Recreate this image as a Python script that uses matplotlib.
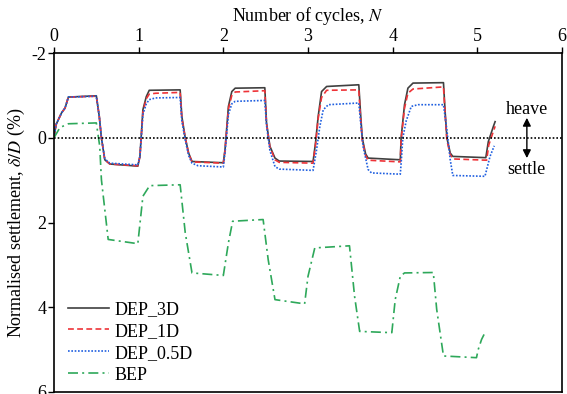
import matplotlib
matplotlib.use("Agg")
import matplotlib.pyplot as plt

plt.rcParams['font.family'] = ['Liberation Serif', 'DejaVu Serif']
plt.rcParams['mathtext.fontset'] = 'stix'
plt.rcParams['font.size'] = 13
plt.rcParams['axes.unicode_minus'] = False

# ---- data ----
n_3d = [0, 0.024, 0.09, 0.13, 0.17, 0.5, 0.535, 0.56, 0.6, 0.66, 0.99,
        1.015, 1.05, 1.09, 1.125, 1.49, 1.51, 1.55, 1.59, 1.63, 2.0,
        2.02, 2.06, 2.1, 2.14, 2.49, 2.51, 2.55, 2.61, 2.66, 3.06,
        3.09, 3.12, 3.16, 3.22, 3.6, 3.62, 3.64, 3.68, 3.71, 4.09,
        4.1, 4.14, 4.18, 4.24, 4.6, 4.62, 4.64, 4.68, 4.71, 5.1, 5.13, 5.19, 5.21]
v_3d = [0, -0.31, -0.59, -0.7, -0.96, -0.99, -0.5, 0, 0.52, 0.62, 0.67,
        0.44, -0.66, -0.97, -1.12, -1.13, -0.5, 0, 0.36, 0.56, 0.59,
        0.28, -0.74, -1.09, -1.17, -1.18, -0.35, 0.2, 0.48, 0.55, 0.56,
        0.1, -0.5, -1.09, -1.21, -1.25, -0.6, 0, 0.38, 0.48, 0.52,
        0, -0.78, -1.17, -1.29, -1.3, -0.6, 0, 0.36, 0.44, 0.47, 0.09, -0.27, -0.38]

n_1d = [0, 0.024, 0.09, 0.13, 0.17, 0.5, 0.535, 0.56, 0.6, 0.66, 0.99,
        1.015, 1.05, 1.09, 1.125, 1.2, 1.49, 1.51, 1.55, 1.59, 1.63, 2.0,
        2.02, 2.06, 2.1, 2.14, 2.49, 2.51, 2.55, 2.61, 2.66, 3.06,
        3.09, 3.12, 3.16, 3.22, 3.6, 3.62, 3.64, 3.68, 3.71, 4.09,
        4.1, 4.14, 4.18, 4.24, 4.6, 4.62, 4.64, 4.68, 4.71, 5.11, 5.135, 5.21]
v_1d = [0, -0.31, -0.59, -0.7, -0.96, -0.98, -0.5, 0, 0.52, 0.62, 0.66,
        0.44, -0.6, -0.92, -1.03, -1.05, -1.07, -0.45, 0, 0.38, 0.57, 0.6,
        0.3, -0.68, -1.0, -1.08, -1.11, -0.33, 0.22, 0.52, 0.58, 0.6,
        0.15, -0.45, -0.95, -1.12, -1.13, -0.5, 0.05, 0.42, 0.53, 0.57,
        0.05, -0.7, -1.05, -1.15, -1.2, -0.55, 0.05, 0.4, 0.5, 0.53, 0.17, -0.27]

n_05d = [0, 0.024, 0.09, 0.13, 0.17, 0.5, 0.535, 0.56, 0.6, 0.66, 0.99,
         1.015, 1.05, 1.09, 1.125, 1.2, 1.49, 1.51, 1.55, 1.59, 1.63, 1.7, 2.0,
         2.02, 2.06, 2.1, 2.14, 2.49, 2.51, 2.55, 2.61, 2.66, 3.06,
         3.1, 3.14, 3.18, 3.24, 3.6, 3.62, 3.65, 3.71, 3.75, 4.09,
         4.1, 4.12, 4.16, 4.22, 4.3, 4.6, 4.64, 4.68, 4.71, 5.09, 5.15, 5.2]
v_05d = [0, -0.31, -0.59, -0.7, -0.96, -0.98, -0.5, 0, 0.5, 0.6, 0.64,
         0.44, -0.55, -0.8, -0.9, -0.94, -0.95, -0.4, 0.05, 0.42, 0.6, 0.66, 0.69,
         0.35, -0.55, -0.8, -0.86, -0.88, -0.3, 0.3, 0.68, 0.74, 0.77,
         0.3, -0.27, -0.66, -0.78, -0.82, -0.4, 0.2, 0.75, 0.83, 0.86,
         0.6, 0, -0.4, -0.74, -0.78, -0.78, -0.19, 0.52, 0.89, 0.91, 0.44, 0.19]

n_bep = [0, 0.07, 0.17, 0.5, 0.54, 0.56, 0.64, 0.99,
         1.05, 1.13, 1.49, 1.55, 1.63, 2.0,
         2.06, 2.11, 2.47, 2.53, 2.61, 2.96,
         3.0, 3.08, 3.49, 3.55, 3.61, 3.99,
         4.03, 4.09, 4.14, 4.48, 4.52, 4.6, 4.99,
         5.01, 5.05, 5.09]
v_bep = [0, -0.24, -0.33, -0.35, 0.2, 0.99, 2.4, 2.5,
         1.38, 1.13, 1.11, 2.24, 3.19, 3.25,
         2.48, 1.97, 1.93, 2.88, 3.82, 3.92,
         3.27, 2.6, 2.55, 3.74, 4.57, 4.6,
         3.82, 3.27, 3.19, 3.18, 4.05, 5.15, 5.19,
         5.0, 4.76, 4.6]

labels = ['DEP_3D', 'DEP_1D', 'DEP_0.5D', 'BEP']
x_ticks = [0, 1, 2, 3, 4, 5, 6]
y_ticks = [-2, 0, 2, 4, 6]

# ---- figure ----
fig = plt.figure(figsize=(5.67, 3.94), dpi=100)
ax = fig.add_axes([54/567, 2/394, 508/567, 339/394])

ax.plot(n_3d, v_3d, color='#404040', lw=1.2, ls='-', label=labels[0])
ax.plot(n_1d, v_1d, color='#ee3338', lw=1.2, ls=(0, (3.5, 2)), label=labels[1])
ax.plot(n_05d, v_05d, color='#1f5fe0', lw=1.2, ls=(0, (1, 1)), label=labels[2])
ax.plot(n_bep, v_bep, color='#2ea85a', lw=1.2, ls=(0, (6, 2.5, 1.2, 2.5)), label=labels[3])

ax.axhline(0, color='black', lw=1.2, ls=(0, (1, 1.2)))

ax.set_xlim(0, 6)
ax.set_ylim(6, -2)
ax.set_xticks(x_ticks)
ax.set_yticks(y_ticks)
ax.xaxis.set_ticks_position('top')
ax.xaxis.set_label_position('top')
ax.tick_params(axis='both', direction='out', length=4, width=1, pad=1.5)
ax.set_xlabel('Number of cycles, $N$', labelpad=5)
ax.set_ylabel('Normalised settlement, $\\delta/D$ (%)', labelpad=3)
for s in ax.spines.values():
    s.set_linewidth(1.2)

ax.annotate('', xy=(5.585, -0.47), xytext=(5.585, 0.48),
            arrowprops=dict(arrowstyle='<|-|>', color='black', lw=1,
                            mutation_scale=12, shrinkA=0, shrinkB=0))
ax.text(5.585, -0.67, 'heave', ha='center', va='center')
ax.text(5.585, 0.74, 'settle', ha='center', va='center')

ax.legend(loc='lower left', bbox_to_anchor=(0.027, 0.025), frameon=False,
          handlelength=2.3, handletextpad=0.28, labelspacing=0.27,
          borderaxespad=0, borderpad=0)

fig.savefig('out.png', dpi=100)
